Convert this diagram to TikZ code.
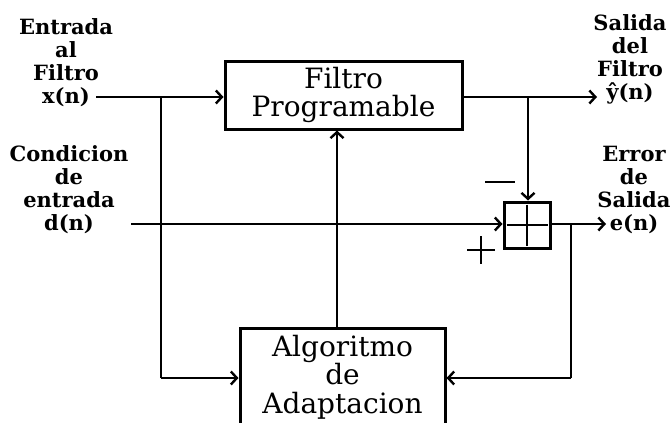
\documentclass[tikz,border=0pt]{standalone}
\usepackage{fontspec}
\setmainfont{DejaVu Serif}
\usetikzlibrary{arrows.meta}
\begin{document}
\begin{tikzpicture}[x=1pt,y=-1pt,
  lbl/.style={font=\bfseries\fontsize{21}{23}\selectfont, align=center, inner sep=0pt},
  boxtxt/.style={font=\fontsize{28}{28.5}\selectfont, align=center},
  blk/.style={draw, line width=3pt, inner sep=0pt},
  sig/.style={line width=2.8pt},
  arr/.style={sig, -{Straight Barb[length=6pt,width=13pt,line width=2.4pt]}}]
\clip (0,0) rectangle (672,423);
\fill[white] (0,0) rectangle (672,423);
% blocks
\node[blk, boxtxt, minimum width=237pt, minimum height=68pt] (filt) at (343.5,95) {Filtro\\Programable};
\node[blk, boxtxt, minimum width=205pt, minimum height=98pt] (alg) at (342.5,377) {Algoritmo\\de\\Adaptacion};
\node[blk, minimum size=46pt] (sum) at (527,225) {};
\draw[sig] ([xshift=4pt]sum.west) -- ([xshift=-4pt]sum.east);
\draw[sig] ([yshift=-4pt]sum.north) -- ([yshift=4pt]sum.south);
% signs
\draw[line width=2.8pt] (485,182) -- (515,182);
\draw[line width=2.8pt] (467,250) -- (495,250) (481,236) -- (481,264);
% labels
\node[lbl, anchor=south] (lin) at (66,107) {Entrada\\al\\Filtro\\x(n)};
\node[lbl, anchor=south] (ld) at (69,234) {Condicion\\de\\entrada\\d(n)};
\node[lbl, anchor=south] (lout) at (630,104) {Salida\\del\\Filtro\\ŷ(n)};
\node[lbl, anchor=south] (lerr) at (634,234) {Error\\de\\Salida\\e(n)};
% coordinates
\coordinate (xin) at (96,97);
\coordinate (bx) at (161,97);
\coordinate (bxd) at (161,378);
\coordinate (din) at (131,224);
\coordinate (yout) at (597,97);
\coordinate (by) at (528,97);
\coordinate (eout) at (606,224);
\coordinate (be) at (571,224);
\coordinate (bed) at (571,378);
% connectors
\draw[arr] (xin) -- (xin -| filt.west);
\draw[sig] (bx) -- (bxd);
\draw[arr] (bxd) -- (bxd -| alg.west);
\draw[arr] (din) -- (din -| sum.west);
\draw[arr] (yout -| filt.east) -- (yout);
\draw[arr] (by) -- (by |- sum.north);
\draw[arr] (eout -| sum.east) -- (eout);
\draw[sig] (be) -- (bed);
\draw[arr] (bed) -- (bed -| alg.east);
\draw[arr] (337,0 |- alg.north) -- (337,0 |- filt.south);
\end{tikzpicture}
\end{document}
